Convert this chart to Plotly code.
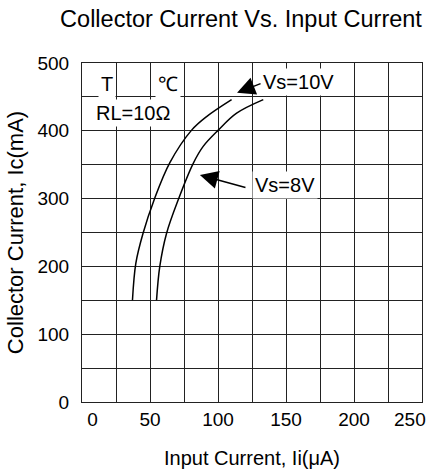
import plotly.graph_objects as go

# Data
vs10_x = [37.1, 39.6, 44.9, 53.0, 64.6, 80.6, 91.6, 110.0]
vs10_y = [150, 205, 249, 298, 353, 401, 421, 446]
vs8_x = [54.8, 57.2, 62.2, 70.7, 81.8, 89.1, 100.2, 113.7, 133.3]
vs8_y = [150, 200, 249, 298, 352, 377, 401, 426, 446]
x_ticks = [0, 50, 100, 150, 200]
x_tick_text = ["\u00a0\u00a0\u00a0\u00a00", "50", "100", "150", "200"]
x_last_tick = 250
y_ticks = [0, 100, 200, 300, 400, 500]

FONT = "Liberation Sans, Arial, sans-serif"
W, H = 430, 474

fig = go.Figure()
for xs, ys in [(vs10_x, vs10_y), (vs8_x, vs8_y)]:
    fig.add_trace(go.Scatter(x=xs, y=ys, mode="lines",
                             line=dict(color="black", width=1.5, shape="spline"),
                             showlegend=False, hoverinfo="skip"))

ann = []
# text labels with white backgrounds
for txt, x, y in [("T", 18.2, 469), ("℃", 63.1, 469), ("RL=10Ω", 37.5, 426),
                  ("Vs=10V", 159.5, 472), ("Vs=8V", 149.0, 320)]:
    ann.append(dict(x=x, y=y, xref="x", yref="y", text=txt, showarrow=False,
                    font=dict(family=FONT, size=20, color="black"),
                    bgcolor="white", borderpad=2))
# arrows
for hx, hy, tx, ty in [(114, 456, 132.4, 470.5), (86.7, 334.8, 121.3, 315.7)]:
    ann.append(dict(x=hx, y=hy, ax=tx, ay=ty, xref="x", yref="y",
                    axref="x", ayref="y", text="", showarrow=True,
                    arrowhead=2, arrowsize=2.4, arrowwidth=1.5, arrowcolor="black"))
# last x tick label, right-aligned at the plot edge so it stays inside the page
ann.append(dict(x=x_last_tick, y=0, xref="x", yref="paper", text=str(x_last_tick),
                showarrow=False, xanchor="right", yanchor="top", xshift=6, yshift=-5,
                font=dict(family=FONT, size=19, color="black")))

fig.update_layout(
    width=W, height=H,
    margin=dict(l=82, r=8, t=63, b=72, autoexpand=False),
    paper_bgcolor="white", plot_bgcolor="white",
    font=dict(family=FONT, color="black"),
    title=dict(text="Collector Current Vs. Input Current",
               x=241/W, xanchor="center", xref="container",
               y=1-19/H, yanchor="middle", yref="container",
               font=dict(size=23.5, family=FONT, color="black")),
    annotations=ann,
)
fig.update_xaxes(range=[0, 250], tickvals=x_ticks, ticktext=x_tick_text,
                 automargin=False,
                 showgrid=True, gridcolor="#222",
                 gridwidth=1, minor=dict(dtick=25, showgrid=True, gridcolor="#222", gridwidth=1),
                 showline=True, linecolor="#222", linewidth=1, mirror=True,
                 zeroline=False, ticks="", tickfont=dict(size=19), ticklabelstandoff=0,
                 title=dict(text="Input Current, Ii(μA)", font=dict(size=20), standoff=22),
                 fixedrange=True)
fig.update_yaxes(range=[0, 500], tickvals=y_ticks, automargin=False,
                 showgrid=True, gridcolor="#222",
                 gridwidth=1, minor=dict(dtick=50, showgrid=True, gridcolor="#222", gridwidth=1),
                 showline=True, linecolor="#222", linewidth=1, mirror=True,
                 zeroline=False, ticks="", tickfont=dict(size=19), ticklabelstandoff=8,
                 title=dict(text="Collector Current, Ic(mA)", font=dict(size=22), standoff=7),
                 fixedrange=True)

fig.write_html("out.html", config={"displayModeBar": False},
               post_script="document.body.style.margin='0';document.body.style.overflow='hidden';")
